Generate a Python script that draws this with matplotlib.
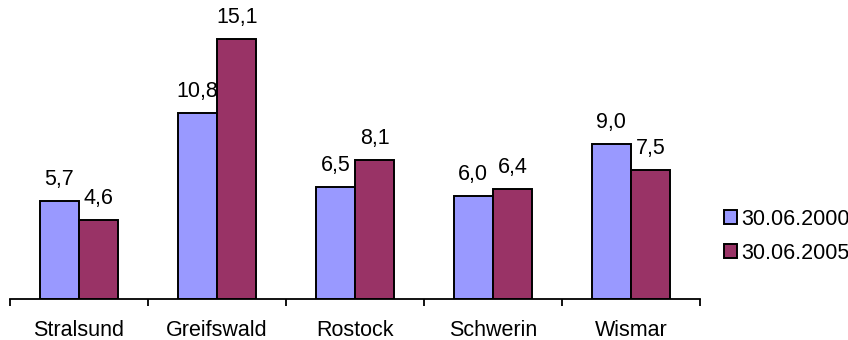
import matplotlib
matplotlib.use("Agg")
import matplotlib.pyplot as plt
import numpy as np

# Data
cities = ["Stralsund", "Greifswald", "Rostock", "Schwerin", "Wismar"]
series_labels = ["30.06.2000", "30.06.2005"]
values_2000 = [5.7, 10.8, 6.5, 6.0, 9.0]
values_2005 = [4.6, 15.1, 8.1, 6.4, 7.5]
colors = ["#9999FF", "#993366"]

plt.rcParams["font.family"] = ["Liberation Sans", "DejaVu Sans"]
FS = 15.5

fig = plt.figure(figsize=(8.48, 3.40), dpi=100)
ax = fig.add_axes([10 / 848, 41 / 340, 690 / 848, 275.5 / 340])

x = np.arange(len(cities))
w = 1 / 3.5
bars = []
for k, (vals, col) in enumerate(zip([values_2000, values_2005], colors)):
    pos = x + (k - 0.5) * w
    b = ax.bar(pos, vals, width=w, color=col, edgecolor="black",
               linewidth=1.4, label=series_labels[k], zorder=2)
    bars.append(b)
    for px, v in zip(pos, vals):
        ax.annotate(f"{v:.1f}".replace(".", ","), (px, v),
                    xytext=(0, 11.5), textcoords="offset points",
                    ha="center", va="baseline", fontsize=FS)

ax.set_xlim(-0.5, len(cities) - 0.5)
ax.set_ylim(0, 16)

for s in ["top", "right", "left"]:
    ax.spines[s].set_visible(False)
ax.spines["bottom"].set_linewidth(1.3)
ax.set_yticks([])

# Category boundaries as tick marks, names centred between them
ax.set_xticks(np.arange(len(cities) + 1) - 0.5)
ax.set_xticklabels([])
ax.tick_params(axis="x", which="major", direction="out", length=5, width=1.3)
ax.set_xticks(x, minor=True)
ax.set_xticklabels(cities, minor=True, fontsize=FS)
ax.tick_params(axis="x", which="minor", length=0, pad=15)

fig.legend(handles=bars, labels=series_labels, loc="upper left",
           bbox_to_anchor=(724 / 848, 1 - 209 / 340), frameon=False,
           fontsize=FS, handlelength=0.62, handleheight=0.62,
           handletextpad=0.2, labelspacing=0.6, borderpad=0,
           borderaxespad=0)

fig.savefig("out.png", dpi=100)
